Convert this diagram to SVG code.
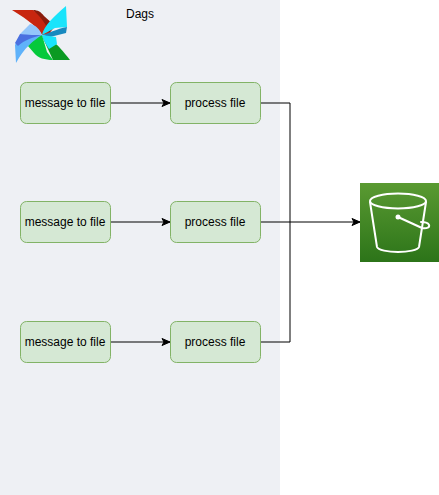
<svg xmlns="http://www.w3.org/2000/svg" width="439" height="495" viewBox="0 0 439 495">
<defs>
<marker id="arrow" markerUnits="userSpaceOnUse" markerWidth="10" markerHeight="10" refX="9" refY="5" orient="auto"><path d="M1 1.500L9 5L1 8.500L3 5Z" fill="#000" stroke="#000" stroke-width="1"/></marker>
<linearGradient id="s3" x1="0" y1="1" x2="0" y2="0"><stop offset="0" stop-color="#2c7419"/><stop offset="1" stop-color="#5a9a32"/></linearGradient>
</defs>
<style>
.box{fill:#d5e8d4;stroke:#82b366;stroke-width:1}
.t{font-family:"Liberation Sans",Arial,sans-serif;font-size:12px;fill:#000;text-anchor:middle}
.c{fill:none;stroke:#000;stroke-width:1}
.b{fill:none;stroke:#fff;stroke-width:2;stroke-linecap:round;stroke-linejoin:round}
</style>
<rect width="439" height="495" fill="#fff"/>
<rect id="dags-bg" x="0" y="0" width="280" height="495" fill="#eef0f4"/>
<g id="dags-label"><text class="t" x="140" y="18">Dags</text></g>
<g id="airflow-logo">
<path d="M12 10L33 10L55 26L49 34L42 35C38 28 30 21 12 10Z" fill="#c8260f"/>
<path d="M33 10C38 10 41 12 44 16L54 25L49 33C47 25 41 17 33 10Z" fill="#8a1c0c"/>
<path d="M66 6L67 27L55 28L42 35C44 26 53 17 66 6Z" fill="#19e4fb"/>
<path d="M67 27L66 33L50 37L42 35C50 33 56 29 67 27Z" fill="#1789bf"/>
<path d="M70 60L53 60L42 36C50 38 56 42 70 60Z" fill="#0a9a22"/>
<path d="M42 35L47 52L53 60C45 60 38 58 34 53L28 46C30 40 36 36 42 35Z" fill="#05c93c"/>
<path d="M42 35L56 37L57 44L49 49C46 44 43 40 42 35Z" fill="#19e4fb"/>
<path d="M16 63L15 45L20 35C30 36 36 34 42 35C34 40 24 48 16 63Z" fill="#5fb2fa"/>
<path d="M20 34L30 24C36 25 40 30 42 35C34 35 28 36 20 34Z" fill="#93c6fb"/>
<path d="M15 43L20 34C28 35 36 35 42 35C34 37 24 40 18 46Z" fill="#4a70e0"/>
</g>
<g id="connectors">
<path class="c" marker-end="url(#arrow)" d="M110 103H170"/>
<path class="c" marker-end="url(#arrow)" d="M110 222H170"/>
<path class="c" marker-end="url(#arrow)" d="M110 342H170"/>
<path class="c" d="M260 103H290V342H260"/>
<path class="c" marker-end="url(#arrow)" d="M260 222H360"/>
</g>
<g id="m1"><rect class="box" x="20.500" y="82.500" width="90" height="41" rx="6"/><text class="t" x="65" y="107">message to file</text></g>
<g id="p1"><rect class="box" x="170.500" y="82.500" width="90" height="41" rx="6"/><text class="t" x="215" y="107">process file</text></g>
<g id="m2"><rect class="box" x="20.500" y="201.500" width="90" height="41" rx="6"/><text class="t" x="65" y="226">message to file</text></g>
<g id="p2"><rect class="box" x="170.500" y="201.500" width="90" height="41" rx="6"/><text class="t" x="215" y="226">process file</text></g>
<g id="m3"><rect class="box" x="20.500" y="321.500" width="90" height="41" rx="6"/><text class="t" x="65" y="346">message to file</text></g>
<g id="p3"><rect class="box" x="170.500" y="321.500" width="90" height="41" rx="6"/><text class="t" x="215" y="346">process file</text></g>
<g id="s3-bucket">
<rect x="360" y="183" width="79" height="79" fill="url(#s3)"/>
<ellipse class="b" cx="398" cy="201" rx="28" ry="7.500"/>
<path class="b" d="M370 202L377 247C378 250 388 252 398 252C408 252 418 250 419 247L426 202"/>
<path class="b" d="M398 217L422 228C427 229 430 227 429 225C428 222 424 222 421 222"/>
<circle cx="398" cy="217" r="2.500" fill="#fff"/>
</g>
</svg>
